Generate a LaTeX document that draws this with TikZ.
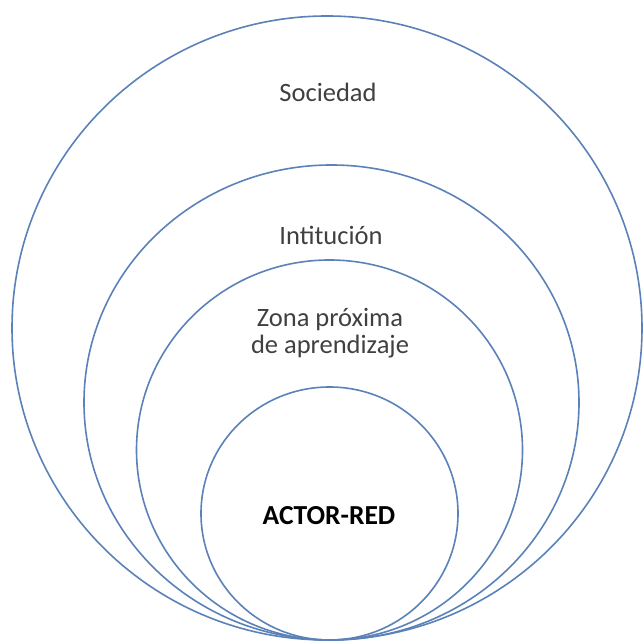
\documentclass[tikz,border=0pt]{standalone}
\usepackage{fontspec}
\setmainfont{Carlito}
\definecolor{ringblue}{HTML}{5B82B8}
\definecolor{labelgrey}{HTML}{404040}
\begin{document}
\begin{tikzpicture}[x=1pt,y=1pt,
    ring/.style={draw=ringblue,line width=1.6pt},
    lbl/.style={text=labelgrey,font=\fontsize{26.5}{27}\selectfont,align=center,inner sep=0pt}]
      \useasboundingbox (0,0) rectangle (643,642);
      \begin{scope}
        \draw[ring] (327,314) ellipse [x radius=315pt,y radius=312pt];
        \draw[ring] (331.5,239.5) ellipse [x radius=247.5pt,y radius=237.5pt];
        \draw[ring] (329.5,192) ellipse [x radius=193pt,y radius=190pt];
        \draw[ring] (329.5,128.5) ellipse [x radius=128.5pt,y radius=126.5pt];
      \end{scope}
      \node[lbl] (sociedad) at (328,550) {Sociedad};
      \node[lbl] (institucion) at (331,406.5) {Intitución};
      \node[lbl] (zona) at (330,309) {Zona próxima\\de aprendizaje};
      \node[lbl,text=black,font=\fontsize{27.5}{28}\selectfont\bfseries] (actor) at (329,126.5) {ACTOR-RED};
    \end{tikzpicture}
\end{document}
